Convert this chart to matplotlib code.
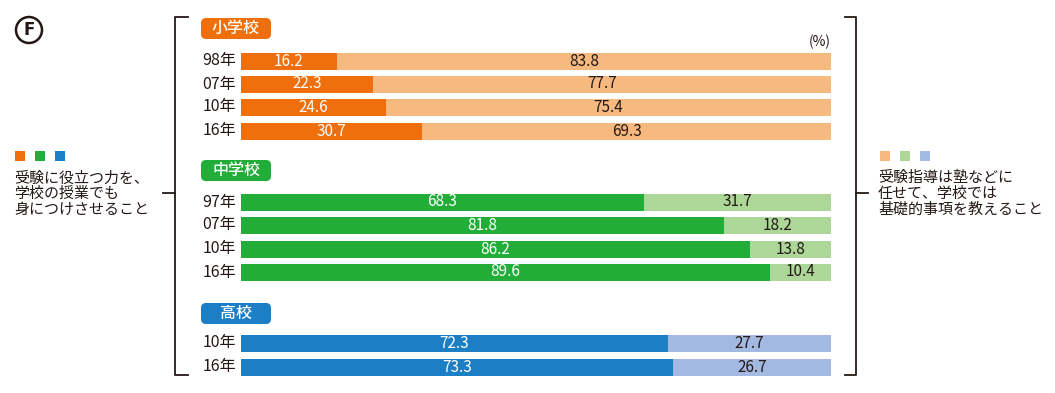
import numpy as np
import matplotlib.pyplot as plt
from matplotlib.patches import FancyBboxPatch, Rectangle

plt.rcParams['font.family'] = ['Noto Sans CJK JP', 'DejaVu Sans']

# data
groups = ['小学校', '中学校', '高校']
years_sho = ['98年', '07年', '10年', '16年']
sho_a = [16.2, 22.3, 24.6, 30.7]
years_chu = ['97年', '07年', '10年', '16年']
chu_a = [68.3, 81.8, 86.2, 89.6]
years_ko = ['10年', '16年']
ko_a = [72.3, 73.3]

dark = ['#ee6f0b', '#22ac38', '#1c7fc5']
light = ['#f6b97f', '#acd798', '#a3b9e2']
txt = '#231815'

W, H = 1055, 393
fig = plt.figure(figsize=(W / 100, H / 100), dpi=100)

# overlay axes in pixel coordinates
ov = fig.add_axes([0, 0, 1, 1])
ov.set_xlim(0, W)
ov.set_ylim(H, 0)
ov.axis('off')

# bar axes: x is percent
x0, x1 = 241, 831
ax = fig.add_axes([x0 / W, 0, (x1 - x0) / W, 1])
ax.set_xlim(0, 100)
ax.set_ylim(H, 0)
ax.axis('off')

rows = [[61, 84, 107, 131], [202, 225, 249, 272], [343, 367]]
pills = [28, 170, 313]
labels = [years_sho, years_chu, years_ko]
vals = [sho_a, chu_a, ko_a]

for g in range(3):
    a = np.array(vals[g])
    b = np.round(100 - a, 1)
    y = rows[g]
    ax.barh(y, a, height=17, color=dark[g], edgecolor='none')
    ax.barh(y, b, left=a, height=17, color=light[g], edgecolor='none')
    for yi, ai, bi, lab in zip(y, a, b, labels[g]):
        ax.text(ai / 2, yi, f'{ai:.1f}', ha='center', va='center',
                color='white', fontsize=11)
        ax.text(ai + bi / 2, yi, f'{bi:.1f}', ha='center', va='center',
                color=txt, fontsize=11)
        ov.text(236, yi, lab, ha='right', va='center', color=txt, fontsize=11.5)
    # pill header
    ov.add_patch(FancyBboxPatch((201, pills[g] - 10), 70, 21,
                                boxstyle='round,pad=0,rounding_size=5',
                                fc=dark[g], ec='none'))
    ov.text(236, pills[g], groups[g], ha='center', va='center',
            color='white', fontsize=11.5, fontweight='medium')

ov.text(831, 42, '(%)', ha='right', va='center', color=txt, fontsize=10)

# brackets
lc = '#231815'
ov.plot([188, 175, 175, 188], [17, 17, 375, 375], color=lc, lw=1.3)
ov.plot([163, 175], [193, 193], color=lc, lw=1.3)
ov.plot([845, 856, 856, 845], [17, 17, 375, 375], color=lc, lw=1.3)
ov.plot([856, 868], [193, 193], color=lc, lw=1.3)

# side legends
for i in range(3):
    ov.add_patch(Rectangle((15 + 20 * i, 151), 10, 10, fc=dark[i], ec='none'))
    ov.add_patch(Rectangle((880 + 20 * i, 151), 10, 10, fc=light[i], ec='none'))
ov.text(14, 194, '受験に役立つ力を、\n学校の授業でも\n身につけさせること',
        ha='left', va='center', color=txt, fontsize=10.8, linespacing=1.15)
ov.text(878, 194, '受験指導は塾などに\n任せて、学校では\n基礎的事項を教えること',
        ha='left', va='center', color=txt, fontsize=10.8, linespacing=1.15)

# circled F
ov.add_patch(plt.Circle((29, 30), 13, fc='none', ec=lc, lw=1.8))
ov.text(29, 30, 'F', ha='center', va='center', color=lc, fontsize=12,
        fontweight='bold', family='DejaVu Sans')

fig.savefig('out.png', dpi=100)
